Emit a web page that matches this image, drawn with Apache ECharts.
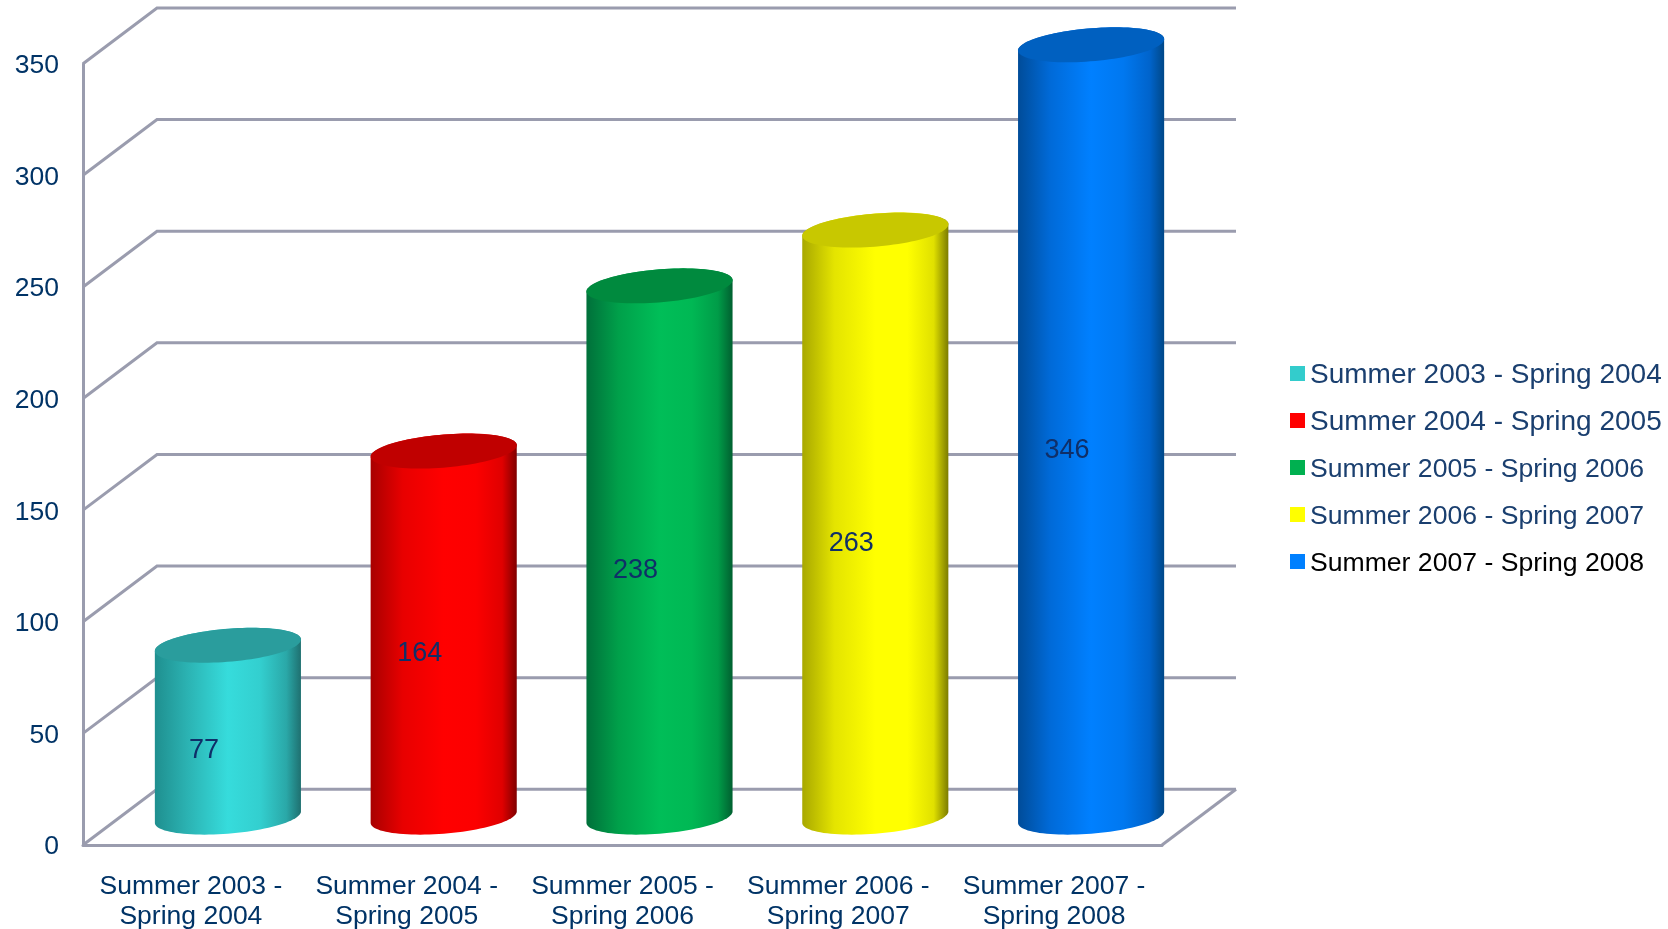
<!DOCTYPE html>
<html>
<head>
<meta charset="utf-8">
<style>html,body{margin:0;padding:0;background:#fff}#c{width:1668px;height:929px}</style>
<script src="https://cdn.jsdelivr.net/npm/echarts@6/dist/echarts.min.js"></script>
</head>
<body>
<div id="c"></div>
<script>
var periods = ['Summer 2003 - Spring 2004','Summer 2004 - Spring 2005','Summer 2005 - Spring 2006','Summer 2006 - Spring 2007','Summer 2007 - Spring 2008'];
var categories = ['Summer 2003 -\nSpring 2004','Summer 2004 -\nSpring 2005','Summer 2005 -\nSpring 2006','Summer 2006 -\nSpring 2007','Summer 2007 -\nSpring 2008'];
var values = [77,164,238,263,346];
var yTicks = [0,50,100,150,200,250,300,350];
var legendColors = ['#33CCCC','#FF0000','#00B050','#FFFF00','#0080FF'];
var topColors = ['#2A9D9D','#C00000','#008A3E','#C8C800','#0060C0'];
var shades = [['#1F8F8F','#2BB2B2','#36DCDC','#33CFCF','#2AA8A8','#1F7070'],
              ['#A80000','#E80000','#FF0000','#FC0000','#E00000','#800000'],
              ['#00703A','#00A04A','#00BE58','#00B854','#009C48','#006030'],
              ['#A8A800','#E4E400','#FFFF00','#FFFF00','#E0E000','#7C7C00'],
              ['#004C99','#006AD8','#0080FF','#0078F0','#0064CC','#004888']];
var DX = 74, DY = 55.7, A = 69, BX = 24, BY = 17.5, LINE = '#9A9CAE';

var chart = echarts.init(document.getElementById('c'));

function ell(cx, cy, from, to, n) {
  var pts = [];
  for (var i = 0; i <= n; i++) {
    var t = from + (to - from) * i / n;
    pts.push([cx + A * Math.cos(t) + BX * Math.sin(t), cy - BY * Math.sin(t)]);
  }
  return pts;
}
function cylinder(idx) {
  return function (params, api) {
    var v = api.value(1);
    var top = api.coord([api.value(0), v]);
    var base = api.coord([api.value(0), 0]);
    var mid = api.coord([api.value(0), v / 2]);
    var cx = top[0] + DX / 2, ty = top[1] - DY / 2, by = base[1] - DY / 2;
    var tL = Math.atan2(BX, A);
    var lower = ell(cx, by, tL + Math.PI, tL + 2 * Math.PI, 48);
    var upper = ell(cx, ty, tL, tL + Math.PI, 48);
    var s = shades[idx];
    return {
      type: 'group',
      children: [
        { type: 'polygon', shape: { points: lower.concat(upper) },
          style: { fill: new echarts.graphic.LinearGradient(0,0,1,0,[
            {offset:0,color:s[0]},{offset:0.22,color:s[1]},{offset:0.5,color:s[2]},
            {offset:0.72,color:s[3]},{offset:0.9,color:s[4]},{offset:1,color:s[5]}]) } },
        { type: 'polygon', shape: { points: ell(cx, ty, 0, 2 * Math.PI, 96) }, style: { fill: topColors[idx] } },
        { type: 'text', x: cx - 24, y: mid[1] - 8.4,
          style: { text: String(v), fill: '#0F2F68', font: '27px "Liberation Sans", Arial, sans-serif', align: 'center', verticalAlign: 'middle' } }
      ]
    };
  };
}
function wall(params, api) {
  var cs = params.coordSys;
  var y = api.coord([0, api.value(0)])[1];
  var x0 = cs.x, x1 = cs.x + cs.width;
  var children = [{ type: 'polyline',
    shape: { points: [[x0, y], [x0 + DX, y - DY], [x1 + DX, y - DY]] },
    style: { stroke: LINE, lineWidth: 3, fill: null } }];
  if (api.value(0) === 0) {
    children.push({ type: 'line', shape: { x1: x1, y1: y, x2: x1 + DX, y2: y - DY },
      style: { stroke: LINE, lineWidth: 3 } });
  }
  return { type: 'group', children: children };
}

var series = [{
  type: 'custom', name: 'wall', silent: true, z: 1, clip: false,
  data: yTicks.map(function (t) { return [t]; }),
  encode: { y: 0 }, renderItem: wall
}];
periods.forEach(function (p, i) {
  series.push({
    type: 'custom', name: p, z: 3, clip: false,
    itemStyle: { color: legendColors[i] },
    data: [[categories[i], values[i]]],
    encode: { x: 0, y: 1 }, renderItem: cylinder(i)
  });
});

chart.setOption({
  animation: false,
  backgroundColor: '#fff',
  grid: { left: 83, top: 63.7, width: 1079, height: 781.3, containLabel: false, outerBoundsMode: 'none' },
  xAxis: {
    type: 'category', data: categories,
    axisLine: { lineStyle: { color: LINE, width: 3 } },
    axisTick: { show: false },
    axisLabel: { color: '#003366', fontFamily: '"Liberation Sans", Arial, sans-serif', fontSize: 26.5, lineHeight: 30, margin: 27, interval: 0 }
  },
  yAxis: {
    type: 'value', min: 0, max: 350, interval: 50,
    splitLine: { show: false },
    axisLine: { show: true, lineStyle: { color: LINE, width: 3 } },
    axisTick: { show: false },
    axisLabel: { color: '#003366', fontFamily: '"Liberation Sans", Arial, sans-serif', fontSize: 26.5, margin: 24,
      formatter: '{a|{value}}', rich: { a: { padding: [4.2,0,0,0] } } }
  },
  legend: {
    orient: 'vertical', left: 1290, top: 356.25, itemWidth: 15, itemHeight: 15, itemGap: 12.5,
    selectedMode: false, icon: 'rect', padding: 0,
    formatter: function (name) { return '{a|' + name + '}'; },
    textStyle: { color: '#1A3F6F', fontFamily: '"Liberation Sans", Arial, sans-serif', fontSize: 28, lineHeight: 30,
      rich: { a: { padding: [4.5,0,0,0], height: 30, lineHeight: 30 } } },
    data: periods.map(function (p, i) {
      if (i === 4) return { name: p, textStyle: { color: '#000', fontSize: 26.6 } };
      if (i >= 2) return { name: p, textStyle: { fontSize: 26.6 } };
      return { name: p };
    })
  },
  series: series
});
</script>
</body>
</html>
